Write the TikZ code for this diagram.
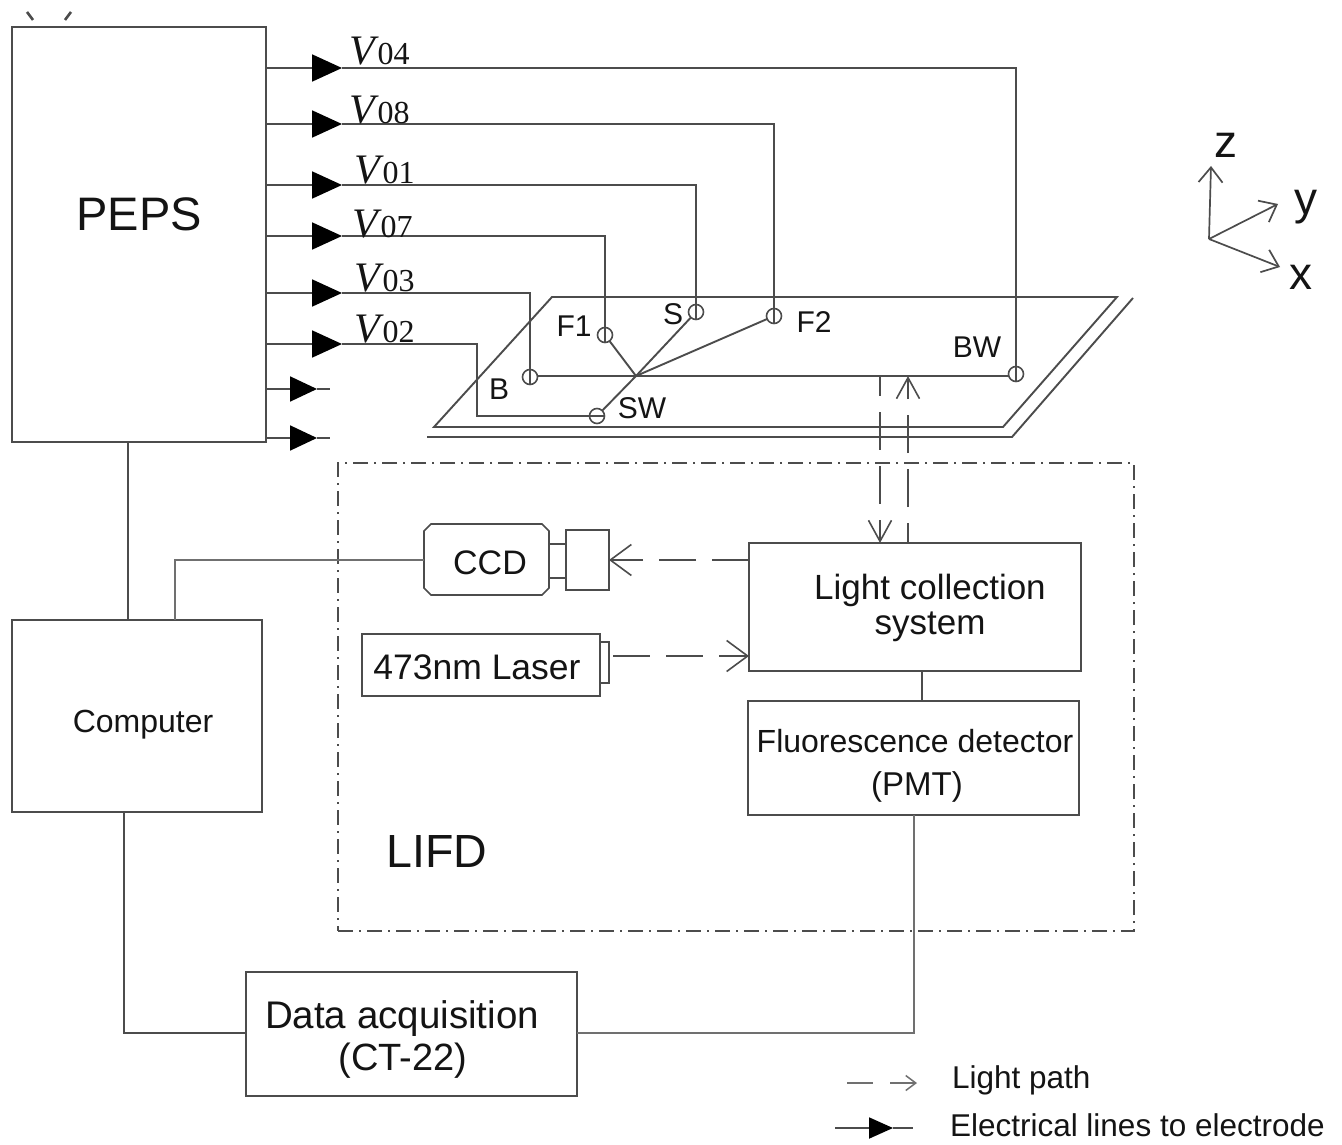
\documentclass[tikz,border=0pt]{standalone}
\usepackage{fontspec}
\setmainfont{Liberation Sans}
\newfontfamily\vserif{Liberation Serif}
\usetikzlibrary{arrows.meta}
\newcommand{\fsz}[1]{\fontsize{#1}{#1}\selectfont}
\newcommand{\vlab}[1]{{\vserif\fsz{42}\itshape V\hspace{3pt}\fsz{32}\upshape #1}}
\definecolor{ln}{gray}{0.3}
\definecolor{tx}{gray}{0.08}
\tikzset{
  wire/.style={draw=ln,line width=1.9pt},
  thin wire/.style={draw=ln!80,line width=1.5pt},
  boxn/.style={draw=ln,line width=2pt,inner sep=0pt,outer sep=0pt,rectangle},
  lab/.style={text=tx,inner sep=0pt,outer sep=0pt},
  elec/.style={draw=ln,line width=1.6pt,circle,inner sep=0pt,minimum size=15pt,outer sep=0pt},
  feed/.style={wire,-{Triangle[length=30pt,width=27pt,fill=black,color=black]}},
  feedshort/.style={wire,-{Triangle[length=27pt,width=25pt,fill=black,color=black]}},
  lightpath/.style={draw=ln,line width=1.7pt,dash pattern=on 37pt off 16pt,-{Straight Barb[length=21pt,width=31pt,line width=1.6pt]}},
  lightvert/.style={draw=ln,line width=1.7pt,dash pattern=on 38pt off 16pt,dash phase=18pt,-{Straight Barb[length=21pt,width=23pt,line width=1.6pt]}},
  axisarrow/.style={draw=ln,line width=1.7pt,-{Straight Barb[length=15pt,width=24pt]}},
}
\begin{document}
\begin{tikzpicture}[x=1pt,y=-1pt]
\useasboundingbox (0,0) rectangle (1342,1145);
\fill[white] (0,0) rectangle (1342,1145);

% stray strokes at top
\coordinate (ta) at (27,12); \coordinate (tb) at (33,20);
\coordinate (tc) at (71,12); \coordinate (td) at (65,20);
\draw[wire,line width=2.6pt] (ta)--(tb) (tc)--(td);

% boxes
\node[boxn,minimum width=254pt,minimum height=415pt] (peps) at (139,234.5) {};
\node[lab] (pepslab) at (139,214) {\fsz{47}PEPS};
\node[boxn,minimum width=250pt,minimum height=192pt] (comp) at (137,716) {};
\node[lab] (complab) at (143,725) {\fsz{32}Computer};
\node[boxn,minimum width=331pt,minimum height=124pt] (daq) at (411.5,1034) {};
\node[lab] (daqa) at (402,1019) {\fsz{38.5}Data acquisition};
\node[lab] (daqb) at (403,1061) {\fsz{38}(CT-22)};
\node[boxn,minimum width=332pt,minimum height=128pt] (lcs) at (915,607) {};
\node[lab] (lcsa) at (930,590) {\fsz{35}Light collection};
\node[lab] (lcsb) at (930,627) {\fsz{35}system};
\node[boxn,minimum width=331pt,minimum height=114pt] (pmt) at (913.5,758) {};
\node[lab] (pmta) at (915,741) {\fsz{32}Fluorescence detector};
\node[lab] (pmtb) at (917,787) {\fsz{33}(PMT)};
\node[inner sep=0pt,outer sep=0pt,rectangle,minimum width=125pt,minimum height=71pt] (ccd) at (486.5,559.5) {};
\draw[draw=ln,line width=1.6pt]
  ([xshift=7pt]ccd.north west) -- ([xshift=-7pt]ccd.north east) -- ([yshift=-7pt]ccd.north east)
  -- ([yshift=7pt]ccd.south east) -- ([xshift=-7pt]ccd.south east) -- ([xshift=7pt]ccd.south west)
  -- ([yshift=7pt]ccd.south west) -- ([yshift=-7pt]ccd.north west) -- cycle;
\node[lab] (ccdlab) at (490,563) {\fsz{34}CCD};
\node[boxn,minimum width=43pt,minimum height=60pt] (lens) at (587.5,560) {};
\node[boxn,minimum width=238pt,minimum height=62pt] (laser) at (481,665) {};
\node[lab] (laserlab) at (477,667) {\fsz{35.5}473nm Laser};
\node[boxn,minimum width=9pt,minimum height=41pt,line width=1.5pt] (lasercap) at (604.5,662.5) {};
\node[lab] (lifd) at (437,851) {\fsz{46.5}LIFD};

% LIFD dash-dot frame
\node[draw=ln,line width=1.6pt,rectangle,inner sep=0pt,minimum width=796pt,minimum height=468pt,dash pattern=on 15pt off 6pt on 2pt off 6pt] (frame) at (736,697) {};

% chip
\coordinate (ia) at (552,297); \coordinate (ib) at (1117,297);
\coordinate (ic) at (1003,427); \coordinate (id) at (434,427);
\coordinate (oa) at (1133,298); \coordinate (ob) at (1012,437); \coordinate (oc) at (427,437);
\draw[wire,line join=miter] (ia)--(ib)--(ic)--(id)--cycle;
\draw[wire] (oa)--(ob)--(oc);

% electrodes
\node[elec] (F1e) at (605,335) {};
\node[elec] (Se) at (696,312) {};
\node[elec] (F2e) at (774,316) {};
\node[elec] (Be) at (530,377) {};
\node[elec] (BWe) at (1016,374) {};
\node[elec] (SWe) at (597,416) {};
\coordinate (hub) at (636,376);
\draw[wire] (hub -| Be.east) -- (hub -| BWe.west);
\draw[wire] (F1e) -- (hub);
\draw[wire] (Se) -- (hub);
\draw[wire] (F2e) -- (hub);
\draw[wire] (SWe) -- (hub);
\node[lab] (lF1) at (574,326) {\fsz{30}F1};
\node[lab] (lS) at (673,314) {\fsz{30}S};
\node[lab] (lF2) at (814,322) {\fsz{30}F2};
\node[lab] (lBW) at (977,347) {\fsz{30}BW};
\node[lab] (lB) at (499,389) {\fsz{30}B};
\node[lab] (lSW) at (642,408) {\fsz{30}SW};

% PEPS outputs
\coordinate (s04) at (266,68);  \coordinate (a04) at (342,68);
\coordinate (s08) at (266,124); \coordinate (a08) at (342,124);
\coordinate (s01) at (266,185); \coordinate (a01) at (342,185);
\coordinate (s07) at (266,236); \coordinate (a07) at (342,236);
\coordinate (s03) at (266,293); \coordinate (a03) at (342,293);
\coordinate (s02) at (266,344); \coordinate (a02) at (342,344);
\coordinate (s09) at (266,389); \coordinate (a09) at (317,389); \coordinate (e09) at (330,389);
\coordinate (s10) at (266,438); \coordinate (a10) at (317,438); \coordinate (e10) at (330,438);
\draw[wire] (a04) -| (BWe.south);
\draw[wire] (a08) -| (F2e.south);
\draw[wire] (a01) -| (Se.south);
\draw[wire] (a07) -| (F1e.south);
\draw[wire] (a03) -| (Be.south);
\coordinate (k02) at (477,344); \coordinate (m02) at (477,416);
\draw[wire] (a02) -- (k02) -- (m02) -- (SWe.east);
\draw[feed] (s04)--(a04);
\draw[feed] (s08)--(a08);
\draw[feed] (s01)--(a01);
\draw[feed] (s07)--(a07);
\draw[feed] (s03)--(a03);
\draw[feed] (s02)--(a02);
\draw[wire] (a09)--(e09);
\draw[wire] (a10)--(e10);
\draw[feedshort] (s09)--(a09);
\draw[feedshort] (s10)--(a10);
\node[lab,anchor=base west] (v04) at (349,65) {\vlab{04}};
\node[lab,anchor=base west] (v08) at (349,124) {\vlab{08}};
\node[lab,anchor=base west] (v01) at (354,184) {\vlab{01}};
\node[lab,anchor=base west] (v07) at (352,237) {\vlab{07}};
\node[lab,anchor=base west] (v03) at (354,291) {\vlab{03}};
\node[lab,anchor=base west] (v02) at (354,342) {\vlab{02}};

% light paths
\coordinate (t1) at (880,376); \coordinate (b1) at (880,543);
\coordinate (t2) at (908,376); \coordinate (b2) at (908,543);
\draw[lightvert] (t1)--(lcs.north -| b1);
\draw[lightvert] (lcs.north -| b2)--(t2);
\coordinate (la) at (749,560); \coordinate (lb) at (609,560);
\draw[lightpath] (la)--(lb);
\coordinate (lc) at (613,656); \coordinate (ld) at (749,656);
\draw[lightpath] (lc)--(ld);

% CCD barrel
\coordinate (c1) at (549,544); \coordinate (c2) at (566,544);
\coordinate (c3) at (549,578); \coordinate (c4) at (566,578);
\draw[wire] (c1)--(c2) (c3)--(c4);

% connectors
\coordinate (pc) at (128,442); \coordinate (pd) at (128,620);
\draw[wire] (pc)--(pd);
\coordinate (cs) at (175,620); \coordinate (cc) at (175,560); \coordinate (cd) at (424,560);
\draw[thin wire] (cs)--(cc)--(cd);
\coordinate (g1) at (124,812); \coordinate (g2) at (124,1033); \coordinate (g3) at (246,1033);
\draw[wire] (g1)--(g2)--(g3);
\coordinate (h1) at (577,1033); \coordinate (h2) at (914,1033); \coordinate (h3) at (914,815);
\draw[thin wire] (h1)--(h2)--(h3);
\coordinate (j1) at (922,671); \coordinate (j2) at (922,701);
\draw[wire] (j1)--(j2);

% axes
\coordinate (o) at (1209,239);
\coordinate (az) at (1211,166); \coordinate (ay) at (1278,204); \coordinate (ax) at (1280,267);
\draw[axisarrow] (o)--(az);
\draw[axisarrow] (o)--(ay);
\draw[axisarrow] (o)--(ax);
\node[lab] (lz) at (1226,145) {\fsz{46}z};
\node[lab] (ly) at (1306,207) {\fsz{46}y};
\node[lab] (lx) at (1301,277) {\fsz{46}x};

% legend
\coordinate (l1) at (847,1083); \coordinate (l2) at (873,1083); \coordinate (l3) at (890,1083); \coordinate (l4) at (917,1083);
\draw[thin wire] (l1)--(l2);
\draw[thin wire,-{Straight Barb[length=10pt,width=15pt]}] (l3)--(l4);
\coordinate (e1) at (835,1128); \coordinate (e2) at (893,1128); \coordinate (e3) at (913,1128);
\draw[wire] (e2)--(e3);
\draw[wire,-{Triangle[length=24pt,width=21pt,fill=black,color=black]}] (e1)--(e2);
\node[lab,anchor=base west] (leg1) at (952,1088) {\fsz{31.5}Light path};
\node[lab,anchor=base west] (leg2) at (950,1136) {\fsz{31.5}Electrical lines to electrode};
\end{tikzpicture}
\end{document}
